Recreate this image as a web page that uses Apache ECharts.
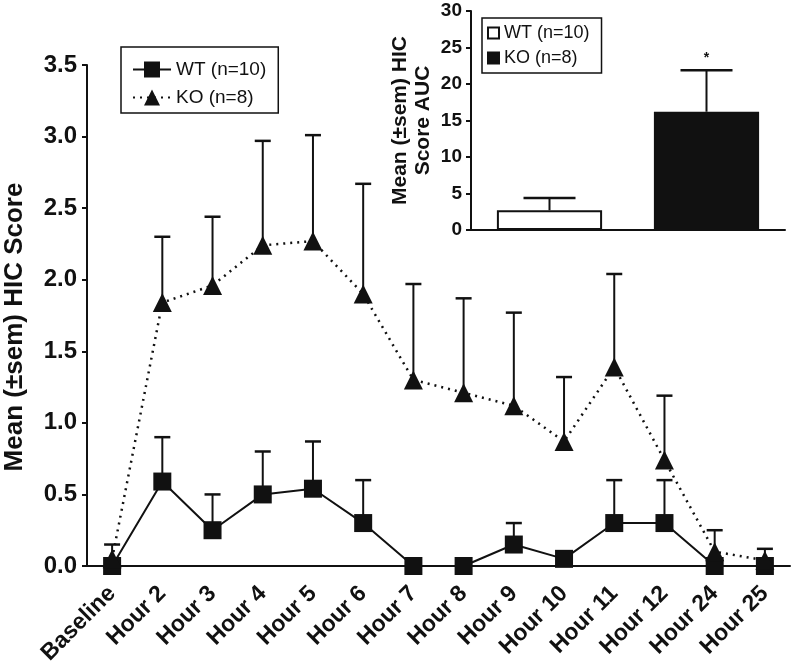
<!DOCTYPE html>
<html>
<head>
<meta charset="utf-8">
<script src="https://cdn.jsdelivr.net/npm/echarts@6/dist/echarts.min.js"></script>
<style>
  html, body { margin: 0; padding: 0; background: #fff; }
  #chart { width: 791px; height: 670px; }
</style>
</head>
<body>
<div id="chart"></div>
<script>
// time course
const timepoints = ['Baseline', 'Hour 2', 'Hour 3', 'Hour 4', 'Hour 5', 'Hour 6', 'Hour 7',
  'Hour 8', 'Hour 9', 'Hour 10', 'Hour 11', 'Hour 12', 'Hour 24', 'Hour 25']
const wtMean = [0, 0.59, 0.25, 0.5, 0.54, 0.3, 0, 0, 0.15, 0.05, 0.3, 0.3, 0, 0]
const wtSem = [0, 0.31, 0.25, 0.3, 0.33, 0.3, 0, 0, 0.15, 0, 0.3, 0.3, 0, 0]
const koMean = [0.05, 1.84, 1.96, 2.24, 2.27, 1.9, 1.3, 1.21, 1.12, 0.87, 1.39, 0.74, 0.1, 0.04]
const koSem = [0.1, 0.46, 0.48, 0.73, 0.74, 0.77, 0.67, 0.66, 0.65, 0.45, 0.65, 0.45, 0.15, 0.08]
const scoreTicks = ['0.0', '0.5', '1.0', '1.5', '2.0', '2.5', '3.0', '3.5']

// AUC inset
const groups = ['WT (n=10)', 'KO (n=8)']
const aucMean = [2.7, 16.2]
const aucSem = [1.7, 5.7]
const aucSig = ['', '*']

const font = 'Liberation Sans, Arial, sans-serif'
const ink = '#111'

const errData = (mean, sem) =>
  mean.map((m, i) => [i, m, m + sem[i]]).filter((d, i) => sem[i] > 0)

const errorBar = (cap) => (params, api) => {
  const i = api.value(0)
  const lo = api.coord([i, api.value(1)])
  const hi = api.coord([i, api.value(2)])
  const children = [
    { type: 'line', shape: { x1: lo[0], y1: lo[1], x2: hi[0], y2: hi[1] }, style: { stroke: ink, lineWidth: 2 } },
    { type: 'line', shape: { x1: hi[0] - cap / 2, y1: hi[1], x2: hi[0] + cap / 2, y2: hi[1] }, style: { stroke: ink, lineWidth: 2.5 } }
  ]
  if (api.value(3)) {
    children.push({
      type: 'text',
      style: { x: hi[0], y: hi[1] - 12, text: api.value(3), fill: ink, font: 'bold 14px ' + font, align: 'center', verticalAlign: 'middle' }
    })
  }
  return { type: 'group', children }
}

const chart = echarts.init(document.getElementById('chart'))
chart.setOption({
  animation: false,
  backgroundColor: '#fff',
  textStyle: { fontFamily: font, color: ink },
  graphic: [
    {
      type: 'text',
      x: 15,
      y: 327,
      rotation: Math.PI / 2,
      style: { text: 'Mean (±sem) HIC Score', font: 'bold 26px ' + font, fill: ink, align: 'center', verticalAlign: 'middle' }
    }
  ],
  legend: [
    {
      data: ['WT (n=10)', 'KO (n=8)'],
      orient: 'vertical',
      left: 121,
      top: 47,
      padding: [13, 12, 6, 11],
      itemGap: 9,
      itemWidth: 38,
      itemHeight: 20,
      borderColor: ink,
      borderWidth: 1.5,
      borderRadius: 0,
      selectedMode: false,
      textStyle: { fontSize: 19, color: ink, fontFamily: font }
    },
    {
      data: ['WT (n=10) ', 'KO (n=8) '],
      formatter: (n) => n.trim(),
      orient: 'vertical',
      left: 482,
      top: 18,
      icon: 'rect',
      padding: [6, 12, 6, 5],
      itemGap: 7,
      itemWidth: 11,
      itemHeight: 11,
      borderColor: ink,
      borderWidth: 1.5,
      borderRadius: 0,
      selectedMode: false,
      textStyle: { fontSize: 18, color: ink, fontFamily: font }
    }
  ],
  grid: [
    { left: 87, right: 1, top: 65, bottom: 104 },
    { left: 471, right: 6, top: 11, bottom: 440 }
  ],
  xAxis: [
    {
      type: 'category',
      gridIndex: 0,
      data: timepoints,
      axisLine: { lineStyle: { color: ink, width: 2 } },
      axisTick: { alignWithLabel: true, length: 6, lineStyle: { color: ink, width: 2 } },
      axisLabel: { interval: 0, rotate: 45, margin: 24, fontSize: 23, fontWeight: 'bold', color: ink }
    },
    {
      type: 'category',
      gridIndex: 1,
      data: groups,
      axisLine: { lineStyle: { color: ink, width: 2 } },
      axisTick: { show: false },
      axisLabel: { show: false }
    }
  ],
  yAxis: [
    {
      type: 'value',
      gridIndex: 0,
      min: 0,
      max: 3.5,
      interval: 0.5,
      splitLine: { show: false },
      axisLine: { show: true, lineStyle: { color: ink, width: 2 } },
      axisTick: { show: true, length: 5, lineStyle: { color: ink, width: 2 } },
      axisLabel: { margin: 10, fontSize: 24, fontWeight: 'bold', color: ink, formatter: (v) => scoreTicks[Math.round(v * 2)] }
    },
    {
      type: 'value',
      gridIndex: 1,
      min: 0,
      max: 30,
      interval: 5,
      name: 'Mean (±sem) HIC\nScore AUC',
      nameLocation: 'middle',
      nameGap: 36,
      nameTextStyle: { fontSize: 21, fontWeight: 'bold', color: ink, lineHeight: 23 },
      splitLine: { show: false },
      axisLine: { show: true, lineStyle: { color: ink, width: 2 } },
      axisTick: { show: true, length: 5, lineStyle: { color: ink, width: 2 } },
      axisLabel: { margin: 9, fontSize: 19, fontWeight: 'bold', color: ink }
    }
  ],
  series: [
    {
      type: 'custom',
      xAxisIndex: 0,
      yAxisIndex: 0,
      renderItem: errorBar(16),
      data: errData(wtMean, wtSem),
      z: 1
    },
    {
      type: 'custom',
      xAxisIndex: 0,
      yAxisIndex: 0,
      renderItem: errorBar(16),
      data: errData(koMean, koSem),
      z: 1
    },
    {
      name: 'WT (n=10)',
      type: 'line',
      xAxisIndex: 0,
      yAxisIndex: 0,
      data: wtMean,
      symbol: 'rect',
      symbolSize: 18,
      lineStyle: { color: ink, width: 2 },
      itemStyle: { color: ink },
      z: 3
    },
    {
      name: 'KO (n=8)',
      type: 'line',
      xAxisIndex: 0,
      yAxisIndex: 0,
      data: koMean,
      symbol: 'triangle',
      symbolSize: 19,
      lineStyle: { color: ink, width: 2.5, type: [2, 5] },
      itemStyle: { color: ink },
      z: 4
    },
    {
      name: 'WT (n=10) ',
      type: 'bar',
      xAxisIndex: 1,
      yAxisIndex: 1,
      barWidth: '67%',
      data: [aucMean[0], null],
      barGap: '-100%',
      itemStyle: { color: '#fff', borderColor: ink, borderWidth: 2 },
      z: 2
    },
    {
      name: 'KO (n=8) ',
      type: 'bar',
      xAxisIndex: 1,
      yAxisIndex: 1,
      barWidth: '67%',
      data: [null, aucMean[1]],
      barGap: '-100%',
      itemStyle: { color: ink, borderColor: ink, borderWidth: 2 },
      z: 2
    },
    {
      type: 'custom',
      xAxisIndex: 1,
      yAxisIndex: 1,
      renderItem: errorBar(52),
      data: aucMean.map((m, i) => [i, m, m + aucSem[i], aucSig[i]]),
      z: 1
    }
  ]
})
</script>
</body>
</html>
